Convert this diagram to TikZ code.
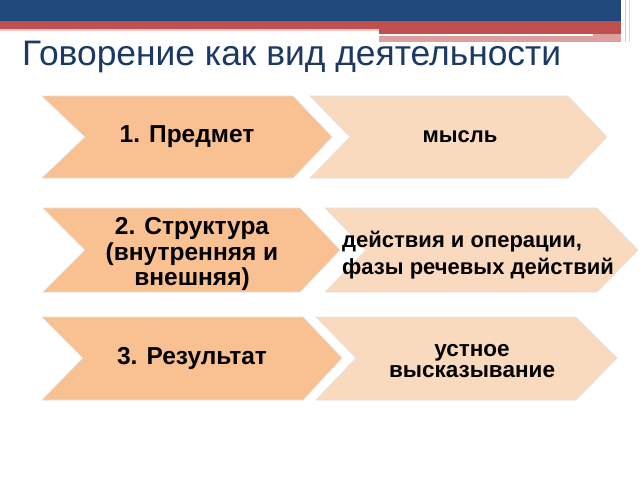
\documentclass[tikz,border=0pt]{standalone}
\usepackage{fontspec}
\setmainfont{Liberation Sans}
\definecolor{hdrblue}{RGB}{33,72,123}
\definecolor{hdrred}{RGB}{192,80,77}
\definecolor{hdrpink}{RGB}{222,160,158}
\definecolor{titleblue}{RGB}{28,57,100}
\definecolor{chevdark}{RGB}{249,192,146}
\definecolor{chevlight}{RGB}{250,218,190}
\begin{document}
\begin{tikzpicture}[x=1pt,y=-1pt,
  darkchev/.style={fill=chevdark,draw=black!12,line width=0.6pt},
  lightchev/.style={fill=chevlight,draw=black!12,line width=0.6pt},
  lefttext/.style={font=\bfseries\fontsize{24.5}{25.5}\selectfont,align=center,inner sep=0pt},
  righttext/.style={font=\bfseries\fontsize{22}{21}\selectfont,align=center,inner sep=0pt}]
\useasboundingbox (0,0) rectangle (640,480);
% header
\fill[hdrblue] (0,0) rectangle (621,21);
\fill[hdrred] (0,21) rectangle (621,29);
\fill[hdrpink!60] (0,29) rectangle (379,31);
\fill[hdrred] (379,29) rectangle (621,34);
\fill[hdrpink] (379,34) rectangle (621,42);
\fill[white] (379,34) rectangle (593,36);
\draw[hdrblue!25,line width=1pt] (625,0) -- (625,42);
\draw[hdrblue!20,line width=1pt] (629,0) -- (629,42);
% title
\node[anchor=base west,inner sep=0pt,text=titleblue,font=\fontsize{35.4}{40}\selectfont] (title) at (22,65) {Говорение как вид деятельности};
% row 1
\path[darkchev] (42,96) -- (293,96) -- (332,137) -- (293,178) -- (42,178) -- (85,137) -- cycle;
\path[lightchev] (310,96) -- (568,96) -- (607,137) -- (568,178) -- (310,178) -- (350,137) -- cycle;
\node[lefttext] (l1) at (187,137) {1. Предмет};
\node[righttext] (r1) at (460,137) {мысль};
% row 2
\path[darkchev] (43,208) -- (300,208) -- (340,250) -- (300,292) -- (43,292) -- (85,250) -- cycle;
\path[lightchev] (325,208) -- (597,208) -- (638,250) -- (597,292) -- (325,292) -- (366,250) -- cycle;
\node[lefttext] (l2) at (192,254) {2. Структура\\(внутренняя и\\внешняя)};
\node[righttext,align=left,anchor=west,font=\bfseries\fontsize{22}{27}\selectfont] (r2) at (342,255) {действия и операции,\\фазы речевых действий};
% row 3
\path[darkchev] (42,317) -- (303,317) -- (342,358) -- (303,400) -- (42,400) -- (83,358) -- cycle;
\path[lightchev] (316,317) -- (576,317) -- (617,358) -- (576,400) -- (316,400) -- (356,358) -- cycle;
\node[lefttext] (l3) at (192,358) {3. Результат};
\node[righttext,font=\bfseries\fontsize{22.5}{21.5}\selectfont] (r3) at (472,361) {устное\\высказывание};
\end{tikzpicture}
\end{document}
